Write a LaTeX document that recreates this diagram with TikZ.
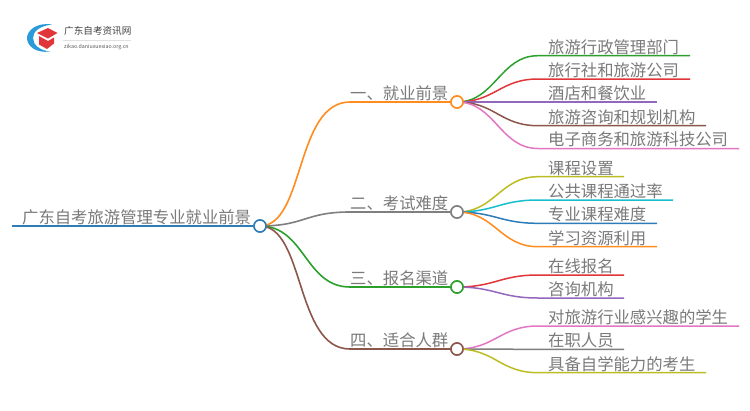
\documentclass[tikz,border=0pt]{standalone}
\usepackage{fontspec}
\setmainfont{Noto Sans CJK SC}
\definecolor{cBlue}{HTML}{2E7DB8}
\definecolor{cOrange}{HTML}{FF8C1F}
\definecolor{cGreen}{HTML}{2CA02C}
\definecolor{cRed}{HTML}{E0363A}
\definecolor{cPurple}{HTML}{9467BD}
\definecolor{cBrown}{HTML}{8C564B}
\definecolor{cPink}{HTML}{E377C2}
\definecolor{cGray}{HTML}{7F7F7F}
\definecolor{cOlive}{HTML}{BCBD22}
\definecolor{cCyan}{HTML}{17BECF}
\definecolor{cText}{HTML}{7A7A7A}
\definecolor{cLogo}{HTML}{2A9BD8}
\tikzset{
  x=1pt,y=-1pt,
  hub/.style={circle,draw,fill=white,line width=1.5pt,minimum size=12pt,inner sep=0pt},
  lab/.style={anchor=base west,inner sep=0pt,font=\fontsize{16.35pt}{17pt}\selectfont,text=cText},
  wire/.style={line width=1.6pt,line cap=round},
  fan/.style={line width=1.5pt},
}
\newcommand{\leaf}[6]{% name, hub, y, end x, colour, text
  \coordinate (#1s) at (538,#3);
  \coordinate (#1e) at (#4,#3);
  \node[lab] (#1) at (548,#3-2.7) {#6};
  \draw[fan,#5] (#2.center) .. controls (495,\hubY) and (500,#3) .. (#1s) -- (#1e);
}
\begin{document}
\begin{tikzpicture}
\useasboundingbox (0,0) rectangle (750,410);
\fill[white] (0,0) rectangle (750,410);
% logo
\fill[cLogo] (52,24.5) .. controls (36,22) and (27,31) .. (27,38) .. controls (27,46) and (36,53.5) .. (50,51.5)
  .. controls (40,50.5) and (33,45) .. (33,38) .. controls (33,31) and (40,26) .. (52,24.5) -- cycle;
\fill[cRed] (37,33) -- (48,28) -- (57.5,33) -- (48,38.5) -- cycle;
\fill[cRed] (39,36) -- (48,41) -- (54,37.5) -- (54,43.5) -- (47,49) -- (39,44.5) -- cycle;
\node[anchor=base west,inner sep=0pt,font=\fontsize{9.6pt}{10pt}\selectfont,text=black!75] (brand) at (64,34.8) {广东自考资讯网};
\draw[black!12,line width=.4pt] (63,40) -- (131,40);
\node[anchor=base west,inner sep=0pt,font=\fontsize{5.3pt}{6pt}\selectfont,text=black!65] (site) at (64,48.5) {zikao.daniuxuexiao.org.cn};
% root
\coordinate (rs) at (12,226);
\node[hub,draw=cBlue] (root) at (260,226) {};
\node[lab] (roott) at (22,223.3) {广东自考旅游管理专业就业前景};
\draw[cBlue,line width=2pt] (rs) -- (root.west);
% branches
\coordinate (b1s) at (350,102);
\coordinate (b2s) at (350,212);
\coordinate (b3s) at (350,287);
\coordinate (b4s) at (350,349);
\node[hub,draw=cOrange] (b1) at (457,102) {};
\node[hub,draw=cGray] (b2) at (457,212) {};
\node[hub,draw=cGreen] (b3) at (457,287) {};
\node[hub,draw=cBrown] (b4) at (457,349) {};
\draw[wire,cOrange] (root.center) .. controls (305,226) and (295,102) .. (b1s) -- (b1.west);
\draw[wire,cGray] (root.center) .. controls (305,226) and (305,212) .. (b2s) -- (b2.west);
\draw[wire,cGreen] (root.center) .. controls (305,226) and (305,287) .. (b3s) -- (b3.west);
\draw[wire,cBrown] (root.center) .. controls (305,226) and (295,349) .. (b4s) -- (b4.west);
\node[hub,draw=cBlue] at (root) {};
\node[lab] (b1t) at (350,99.3) {一、就业前景};
\node[lab] (b2t) at (350,209.3) {二、考试难度};
\node[lab] (b3t) at (350,284.3) {三、报名渠道};
\node[lab] (b4t) at (350,346.3) {四、适合人群};
% leaves
\def\hubY{102}
\leaf{a}{b1}{55.7}{690}{cGreen}{旅游行政管理部门}
\leaf{c}{b1}{79}{690}{cRed}{旅行社和旅游公司}
\leaf{d}{b1}{102}{657}{cPurple}{酒店和餐饮业}
\leaf{f}{b1}{125.7}{706}{cBrown}{旅游咨询和规划机构}
\leaf{g}{b1}{148.5}{739}{cPink}{电子商务和旅游科技公司}
\def\hubY{212}
\leaf{h}{b2}{176.7}{624}{cOlive}{课程设置}
\leaf{i}{b2}{200}{673}{cCyan}{公共课程通过率}
\leaf{j}{b2}{223.3}{657}{cBlue}{专业课程难度}
\leaf{k}{b2}{246.7}{657}{cOrange}{学习资源利用}
\def\hubY{287}
\leaf{l}{b3}{275}{624}{cRed}{在线报名}
\leaf{m}{b3}{298}{624}{cPurple}{咨询机构}
\def\hubY{349}
\leaf{n}{b4}{326}{739}{cPink}{对旅游行业感兴趣的学生}
\leaf{o}{b4}{349.3}{624}{cGray}{在职人员}
\leaf{p}{b4}{372.7}{706}{cOlive}{具备自学能力的考生}
\foreach \h/\c in {b1/cOrange,b2/cGray,b3/cGreen,b4/cBrown}{\node[hub,draw=\c] at (\h) {};}
\end{tikzpicture}
\end{document}
